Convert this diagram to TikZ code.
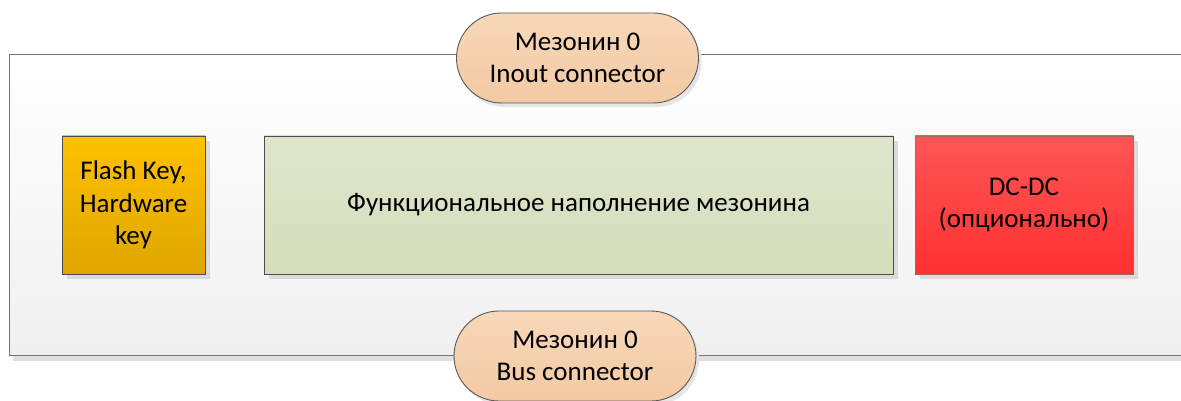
\documentclass[tikz,border=0pt]{standalone}
\usepackage{fontspec}
\setmainfont{Carlito}
\usetikzlibrary{shadows}
\begin{document}
\begin{tikzpicture}[x=1pt,y=-1pt,
  every node/.style={font=\fontsize{27}{32.5}\selectfont, align=center, inner sep=0pt},
  shade/.style={general shadow={fill=black!14, shadow xshift=5pt, shadow yshift=-5pt}},
  block/.style={draw=black!70, line width=0.9pt, shade, minimum height=138pt},
  pill/.style={draw=black!65, line width=0.9pt, rounded corners=45pt,
    minimum width=242pt, minimum height=90pt,
    general shadow={fill=black!10, shadow xshift=3pt, shadow yshift=-4pt}},
]
\definecolor{peachtop}{HTML}{F8D8BA}
\definecolor{peachbot}{HTML}{F2C9A3}
\useasboundingbox (0,0) rectangle (1181,401);
\clip (0,0) rectangle (1181,401);

% board outline
\fill[black!12] (13,59) rectangle (1200,361);
\node[draw=black!55, line width=1pt, top color=white, bottom color=black!6,
  minimum width=1191pt, minimum height=301pt, anchor=north west] (board) at (9,54) {};

% functional blocks
\node[block, top color={rgb,255:red,255;green,193;blue,0}, bottom color={rgb,255:red,222;green,166;blue,0},
  minimum width=143pt] (key) at (133.5,205) {Flash Key,\\Hardware\\key};
\node[block, top color={rgb,255:red,223;green,229;blue,204}, bottom color={rgb,255:red,214;green,222;blue,188},
  minimum width=629pt] (func) at (578.5,205) {Функциональное наполнение мезонина};
\node[block, draw=black!60!red!60, top color={rgb,255:red,255;green,86;blue,86}, bottom color={rgb,255:red,255;green,48;blue,48},
  minimum width=218pt] (dcdc) at (1024,205) {DC-DC\\(опционально)};

% mezzanine connectors
\node[pill, top color=peachtop, bottom color=peachbot] (inout) at (577.5,58) {Мезонин 0\\Inout connector};
\node[pill, top color=peachtop, bottom color=peachbot] (bus) at (575,356) {Мезонин 0\\Bus connector};
\end{tikzpicture}
\end{document}
